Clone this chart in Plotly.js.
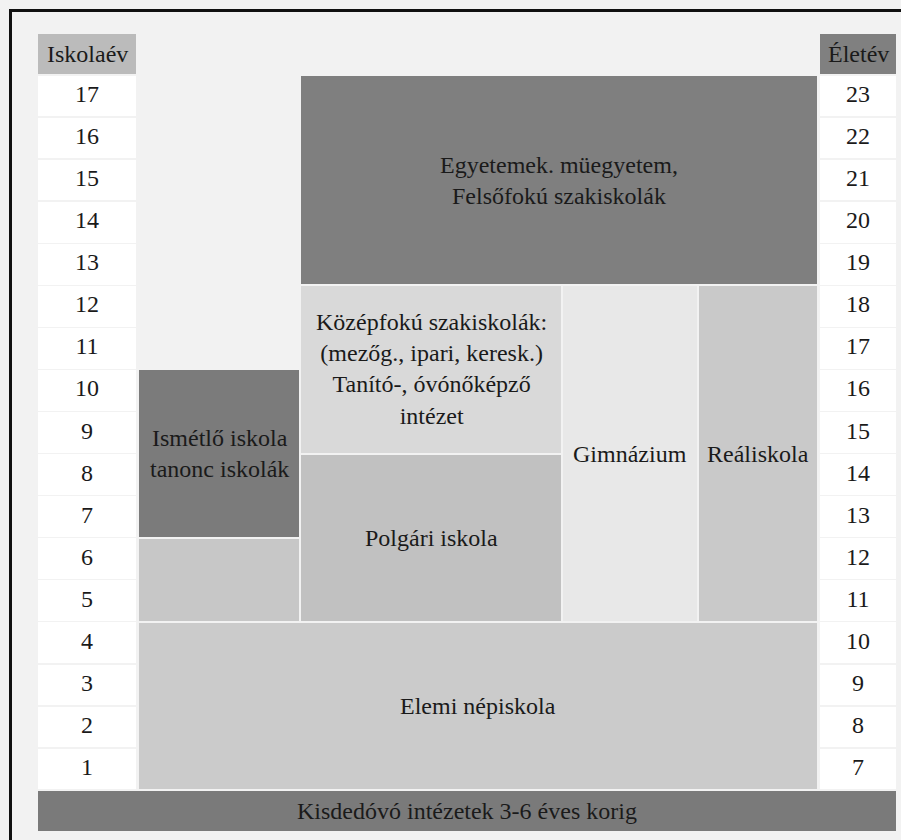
<!DOCTYPE html>
<html>
<head>
<meta charset="utf-8">
<script src="https://cdn.plot.ly/plotly-3.0.1.min.js"></script>
<style>
html,body{margin:0;padding:0;background:#f2f2f2;overflow:hidden;width:901px;height:840px;}
#chart{position:absolute;left:0;top:0;width:901px;height:840px;}
#frame{position:absolute;left:9px;top:9px;width:1000px;height:1000px;border-left:3px solid #111;border-top:3px solid #111;box-sizing:border-box;pointer-events:none;}
</style>
</head>
<body>
<div id="chart"></div>
<div id="frame"></div>
<script>
// ---------------- DATA ----------------
const schoolYears = [1,2,3,4,5,6,7,8,9,10,11,12,13,14,15,16,17];
const ages        = [7,8,9,10,11,12,13,14,15,16,17,18,19,20,21,22,23];
const headerLeft  = 'Iskolaév';
const headerRight = 'Életév';

const institutions = [
  'Egyetemek. müegyetem,<br>Felsőfokú szakiskolák',
  'Középfokú szakiskolák:<br>(mezőg., ipari, keresk.)<br>Tanító-, óvónőképző<br>intézet',
  'Polgári iskola',
  'Gimnázium',
  'Reáliskola',
  'Ismétlő iskola<br>tanonc iskolák',
  '',
  'Elemi népiskola',
  'Kisdedóvó intézetek 3-6 éves korig'
];
const firstYear = [13, 9, 5, 5, 5, 7, 5, 1, 0];
const lastYear  = [17, 12, 8, 12, 12, 10, 6, 4, 0];
const firstCol  = ['B','B','B','C','D','A','A','A','L'];
const lastCol   = ['D','B','B','C','D','A','A','D','R'];

// ---------------- STYLE / LAYOUT ----------------
const boxColors = ['#7f7f7f','#d9d9d9','#c1c1c1','#e8e8e8','#c9c9c9','#7b7b7b','#c7c7c7','#cbcbcb','#7a7a7a'];
const headerLeftColor = '#bbbbbb';
const headerRightColor = '#808080';
const cellColor = '#ffffff';
const textColor = '#1a1a1a';
const FONT = 'Liberation Serif';
const FS = 24;

// horizontal column extents (x axis spans the page width)
const colEdges = {L:[38,136], A:[138,300], B:[300,562], C:[562,698], D:[698,818], R:[820,896]};
const PX_PER_ROW = 799/19;
const gy = 1/PX_PER_ROW;    // 1px in row units
const cellGy = 0.75/PX_PER_ROW;

// ---------------- BUILD ----------------
const bx=[], bw=[], bb=[], bh=[], bc=[];
function addBox(c0, c1, r0, r1, color, gx, gyy){
  const x0 = colEdges[c0][0]+gx, x1 = colEdges[c1][1]-gx;
  bx.push((x0+x1)/2); bw.push(x1-x0);
  bb.push(r0-0.5+gyy); bh.push(r1-r0+1-2*gyy); bc.push(color);
}
schoolYears.forEach(v => { addBox('L','L',v,v,cellColor,0,cellGy); addBox('R','R',v,v,cellColor,0,cellGy); });
const headerRow = Math.max(...schoolYears)+1;
addBox('L','L',headerRow,headerRow,headerLeftColor,0,gy);
addBox('R','R',headerRow,headerRow,headerRightColor,0,gy);
institutions.forEach((n,i) => {
  const gx = firstCol[i]==='L' ? 0 : 1;
  addBox(firstCol[i], lastCol[i], firstYear[i], lastYear[i], boxColors[i], gx, i===8 ? 1.5*gy : gy);
});

const boxes = {
  type:'bar', x:bx, width:bw, base:bb, y:bh,
  marker:{color:bc, line:{width:0}},
  hoverinfo:'skip', showlegend:false
};
const midL = (colEdges.L[0]+colEdges.L[1])/2;
const midR = (colEdges.R[0]+colEdges.R[1])/2;
const leftNums = {
  type:'scatter', mode:'text', x:schoolYears.map(()=>midL), y:schoolYears,
  text:schoolYears.map(String), textposition:'middle center',
  textfont:{family:FONT,size:FS,color:textColor}, hoverinfo:'skip', showlegend:false
};
const rightNums = {
  type:'scatter', mode:'text', x:ages.map(()=>midR), y:schoolYears,
  text:ages.map(String), textposition:'middle center',
  textfont:{family:FONT,size:FS,color:textColor}, hoverinfo:'skip', showlegend:false
};

const annotations = [];
institutions.forEach((n,i) => {
  if(!n) return;
  const x0 = colEdges[firstCol[i]][0], x1 = colEdges[lastCol[i]][1];
  annotations.push({
    xref:'x', yref:'y', x:(x0+x1)/2, y:(firstYear[i]+lastYear[i])/2,
    text:n, showarrow:false, align:'center',
    font:{family:FONT,size:FS,color:textColor}
  });
});
annotations.push({xref:'x',yref:'y',x:midL,y:headerRow,text:headerLeft,showarrow:false,font:{family:FONT,size:FS,color:textColor}});
annotations.push({xref:'x',yref:'y',x:midR,y:headerRow,text:headerRight,showarrow:false,font:{family:FONT,size:FS,color:textColor}});

const layout = {
  width:901, height:840,
  margin:{l:0,r:0,t:33,b:8,pad:0},
  paper_bgcolor:'rgba(0,0,0,0)', plot_bgcolor:'rgba(0,0,0,0)',
  font:{family:FONT},
  barmode:'overlay', bargap:0,
  xaxis:{range:[0,901], visible:false, fixedrange:true},
  yaxis:{range:[-0.5, headerRow+0.5], visible:false, fixedrange:true},
  annotations:annotations,
  showlegend:false
};
Plotly.newPlot('chart',[boxes,leftNums,rightNums],layout,{displayModeBar:false,staticPlot:true});
</script>
</body>
</html>
